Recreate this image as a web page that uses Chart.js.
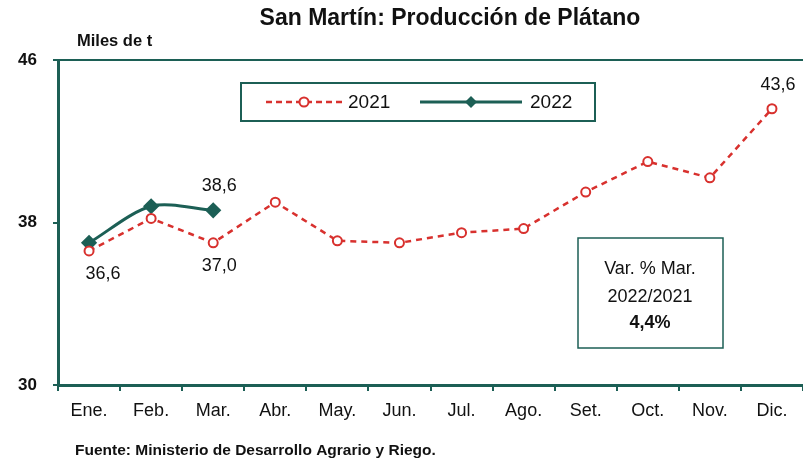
<!DOCTYPE html>
<html>
<head>
<meta charset="utf-8">
<script src="https://cdn.jsdelivr.net/npm/chart.js@4.4.1/dist/chart.umd.min.js"></script>
<style>
  html, body { margin: 0; padding: 0; background: #fff; }
  #wrap { width: 803px; height: 463px; position: relative; }
</style>
</head>
<body>
<div id="wrap"><canvas id="chart"></canvas></div>
<script>
// data
const months = ["Ene.", "Feb.", "Mar.", "Abr.", "May.", "Jun.", "Jul.", "Ago.", "Set.", "Oct.", "Nov.", "Dic."];
const prod2021 = [36.6, 38.2, 37.0, 39.0, 37.1, 37.0, 37.5, 37.7, 39.5, 41.0, 40.2, 43.6];
const prod2022 = [37.0, 38.8, 38.6];
const yTicks = [30, 38, 46];
// value labels: [series, index, position]
const valueLabels = [
    ["2021", 0, "below"],
    ["2021", 2, "below"],
    ["2022", 2, "above"],
    ["2021", 11, "above"]
];
const noteLines = ["Var. % Mar.", "2022/2021", "4,4%"];

const RED = "#d8312e";
const TEAL = "#1c5f55";
const FONT = "'Liberation Sans Narrow', 'Liberation Sans', Arial, sans-serif";

const fmt = (v) => v.toFixed(1).replace(".", ",");

const extras = {
    id: "extras",
    afterDraw(chart) {
        const { ctx, scales: { x, y } } = chart;
        ctx.save();
        ctx.fillStyle = "#111";
        ctx.textBaseline = "middle";

        // title + unit + source
        ctx.font = `bold 23px ${FONT}`;
        ctx.textAlign = "center";
        ctx.fillText("San Martín: Producción de Plátano", 450, 19);
        ctx.font = `bold 16.5px ${FONT}`;
        ctx.textAlign = "left";
        ctx.fillText("Miles de t", 77, 41);
        ctx.font = `bold 15.5px ${FONT}`;
        ctx.fillText("Fuente: Ministerio de Desarrollo Agrario y Riego.", 75, 451);

        // value labels
        ctx.font = `18px ${FONT}`;
        ctx.textAlign = "center";
        valueLabels.forEach(([series, i, pos]) => {
            const arr = series === "2021" ? prod2021 : prod2022;
            const px = x.getPixelForValue(i);
            const py = y.getPixelForValue(arr[i]);
            ctx.fillText(fmt(arr[i]), px + (i === 0 ? 14 : 6), pos === "below" ? py + 23 : py - 24);
        });

        // legend box
        ctx.strokeStyle = TEAL;
        ctx.lineWidth = 2;
        ctx.strokeRect(241, 83, 354, 38);
        ctx.setLineDash([6, 4]);
        ctx.strokeStyle = RED;
        ctx.lineWidth = 2.5;
        ctx.beginPath(); ctx.moveTo(266, 102); ctx.lineTo(342, 102); ctx.stroke();
        ctx.setLineDash([]);
        ctx.fillStyle = "#fff";
        ctx.lineWidth = 2;
        ctx.beginPath(); ctx.arc(304, 102, 4.5, 0, Math.PI * 2); ctx.fill(); ctx.stroke();
        ctx.strokeStyle = TEAL;
        ctx.lineWidth = 3;
        ctx.beginPath(); ctx.moveTo(420, 102); ctx.lineTo(522, 102); ctx.stroke();
        ctx.fillStyle = TEAL;
        ctx.beginPath();
        ctx.moveTo(471, 96); ctx.lineTo(477, 102); ctx.lineTo(471, 108); ctx.lineTo(465, 102);
        ctx.closePath(); ctx.fill();
        ctx.fillStyle = "#111";
        ctx.font = `19px ${FONT}`;
        ctx.textAlign = "left";
        ctx.fillText("2021", 348, 103);
        ctx.fillText("2022", 530, 103);

        // note box
        ctx.strokeStyle = TEAL;
        ctx.lineWidth = 1.5;
        ctx.strokeRect(578, 238, 145, 110);
        ctx.textAlign = "center";
        ctx.font = `18px ${FONT}`;
        ctx.fillText(noteLines[0], 650, 269);
        ctx.fillText(noteLines[1], 650, 297);
        ctx.font = `bold 18px ${FONT}`;
        ctx.fillText(noteLines[2], 650, 323);
        ctx.restore();
    }
};

new Chart(document.getElementById("chart"), {
    type: "line",
    data: {
        labels: months,
        datasets: [
            {
                label: "2021",
                data: prod2021,
                borderColor: RED,
                borderWidth: 2.5,
                borderDash: [6, 5],
                pointStyle: "circle",
                pointRadius: 4.5,
                pointBorderWidth: 2,
                pointBackgroundColor: "#fff",
                pointBorderColor: RED,
                tension: 0
            },
            {
                label: "2022",
                data: prod2022,
                borderColor: TEAL,
                borderWidth: 3,
                pointStyle: "rectRot",
                pointRadius: 6,
                pointBackgroundColor: TEAL,
                pointBorderColor: TEAL,
                tension: 0.3
            }
        ]
    },
    options: {
        responsive: true,
        maintainAspectRatio: false,
        animation: false,
        layout: { autoPadding: false, padding: { top: 60, right: 0, left: 0, bottom: 0 } },
        plugins: { legend: { display: false }, title: { display: false }, tooltip: { enabled: false } },
        scales: {
            x: {
                offset: true,
                grid: { offset: true, drawOnChartArea: false, tickLength: 6, color: TEAL, lineWidth: 2 },
                border: { color: TEAL, width: 3 },
                ticks: { color: "#111", font: { family: FONT, size: 18 }, padding: 9, maxRotation: 0, autoSkip: false },
                afterFit(scale) { scale.height = 78; }
            },
            y: {
                min: 30,
                max: 46,
                afterBuildTicks(scale) { scale.ticks = yTicks.map(v => ({ value: v })); },
                grid: {
                    color: (c) => (c.tick && c.tick.value === 46 ? TEAL : "transparent"),
                    tickColor: TEAL,
                    lineWidth: 2,
                    tickLength: 5
                },
                border: { color: TEAL, width: 3 },
                ticks: { color: "#111", font: { family: FONT, size: 17, weight: "bold" }, padding: 16 },
                afterFit(scale) { scale.width = 58; }
            }
        }
    },
    plugins: [extras]
});
</script>
</body>
</html>
